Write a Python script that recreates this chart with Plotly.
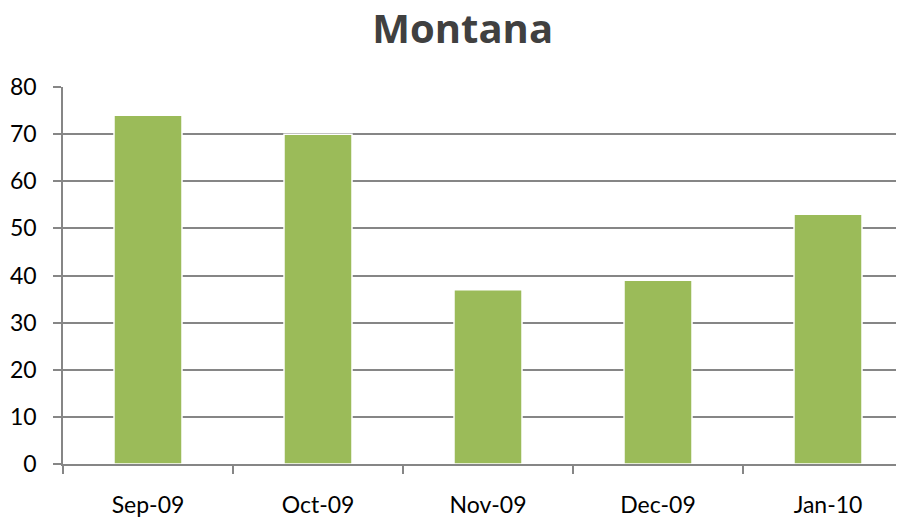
import plotly.graph_objects as go

categories = ["Sep-09", "Oct-09", "Nov-09", "Dec-09", "Jan-10"]
values = [74, 70, 37, 39, 53]
y_ticks = [0, 10, 20, 30, 40, 50, 60, 70, 80]

fig = go.Figure()
fig.add_trace(go.Bar(
    x=categories, y=values,
    marker=dict(color="#9BBB59", line=dict(color="white", width=1.5)),
    width=0.4,
))

fig.update_layout(
    width=904, height=520,
    margin=dict(l=55, r=8, t=79, b=64, autoexpand=False),
    paper_bgcolor="white", plot_bgcolor="white",
    showlegend=False,
    font=dict(family="Lato, Open Sans, sans-serif", color="#000000"),
    title=dict(text="<b>Montana</b>", x=0.503, xanchor="center", y=0.959, yanchor="middle",
               font=dict(size=40, color="#404040", family="Open Sans, sans-serif")),
)
fig.update_xaxes(
    type="category",
    range=[-0.5, 4.447],
    automargin=False,
    showline=True, linecolor="#868686", linewidth=1.5,
    ticks="outside", tickson="boundaries", ticklen=8, tickcolor="#868686", tickwidth=1.5,
    showgrid=False,
    ticklabelstandoff=20,
    tickfont=dict(size=23, color="#000000"),
)
fig.update_yaxes(
    range=[0, 80], tickvals=y_ticks,
    automargin=False,
    showline=True, linecolor="#868686", linewidth=1.5,
    ticks="outside", ticklen=8, tickcolor="#868686", tickwidth=1.5,
    showgrid=True, gridcolor="#868686", gridwidth=1.5,
    zeroline=False,
    ticklabelstandoff=12,
    tickfont=dict(size=23, color="#000000"),
)

fig.write_html("out.html")
